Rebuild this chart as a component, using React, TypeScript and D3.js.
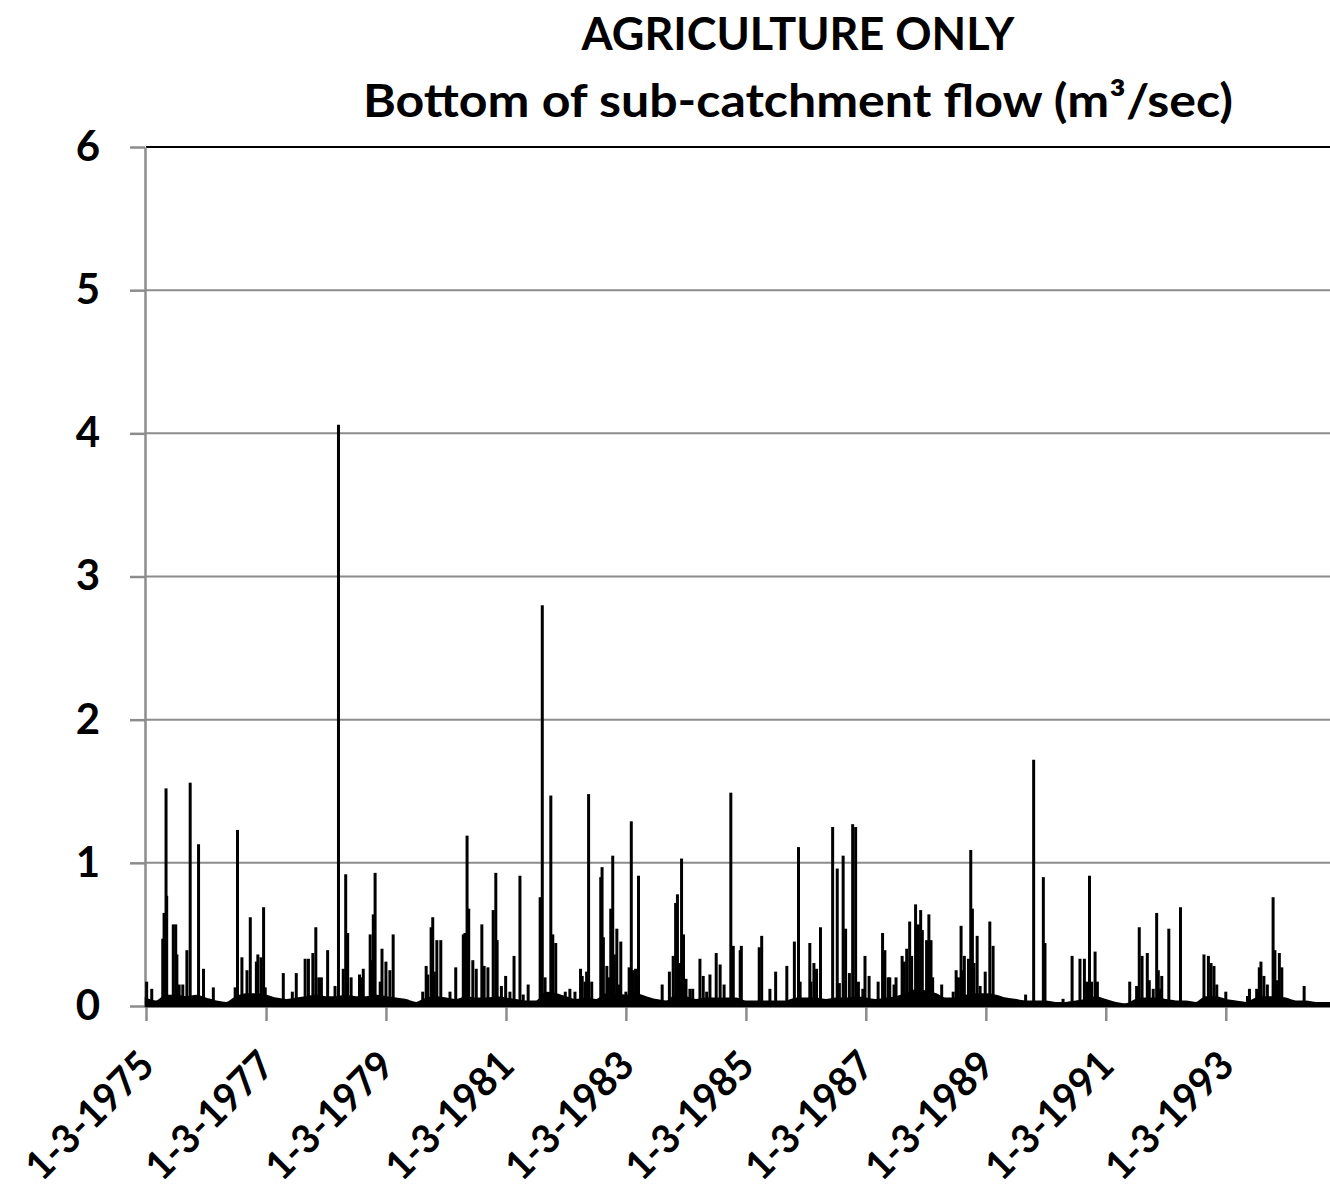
import React, {useEffect, useRef} from 'react';
import * as d3 from 'd3';

// chart text
const titleLines = ['AGRICULTURE ONLY', 'Bottom of sub-catchment flow (m³/sec)'];
const yTicks = [0, 1, 2, 3, 4, 5, 6];
const xTickDates = [
  '1975-03-01', '1977-03-01', '1979-03-01', '1981-03-01', '1983-03-01',
  '1985-03-01', '1987-03-01', '1989-03-01', '1991-03-01', '1993-03-01',
];

// base flow between events (m3/sec) at the bottom
const lowFlows: [string, number][] = [
  ['1975-03-01', 0.05], ['1975-05-01', 0.03], ['1975-07-01', 0.07], ['1975-09-01', 0.07], ['1975-11-01', 0.06],
  ['1976-01-01', 0.07], ['1976-03-01', 0.05], ['1976-05-01', 0.03], ['1976-07-01', 0.02], ['1976-09-01', 0.06], ['1976-11-01', 0.08],
  ['1977-01-01', 0.08], ['1977-03-01', 0.07], ['1977-05-01', 0.05], ['1977-07-01', 0.04], ['1977-09-01', 0.05], ['1977-11-01', 0.06],
  ['1978-01-01', 0.07], ['1978-03-01', 0.06], ['1978-05-01', 0.06], ['1978-07-01', 0.07], ['1978-09-01', 0.06], ['1978-11-01', 0.06],
  ['1979-01-01', 0.07], ['1979-03-01', 0.06], ['1979-05-01', 0.05], ['1979-07-01', 0.04], ['1979-09-01', 0.02], ['1979-11-01', 0.05],
  ['1980-01-01', 0.06], ['1980-03-01', 0.05], ['1980-05-01', 0.04], ['1980-07-01', 0.06], ['1980-09-01', 0.05], ['1980-11-01', 0.05],
  ['1981-01-01', 0.06], ['1981-03-01', 0.05], ['1981-05-01', 0.04], ['1981-07-01', 0.03], ['1981-09-01', 0.03], ['1981-11-01', 0.09],
  ['1982-01-01', 0.08], ['1982-03-01', 0.06], ['1982-05-01', 0.04], ['1982-07-01', 0.05], ['1982-09-01', 0.04], ['1982-11-01', 0.08],
  ['1983-01-01', 0.08], ['1983-03-01', 0.07], ['1983-05-01', 0.08], ['1983-07-01', 0.06], ['1983-09-01', 0.04], ['1983-11-01', 0.03],
  ['1984-01-01', 0.07], ['1984-03-01', 0.06], ['1984-05-01', 0.04], ['1984-07-01', 0.05], ['1984-09-01', 0.05], ['1984-11-01', 0.05],
  ['1985-01-01', 0.05], ['1985-03-01', 0.03], ['1985-05-01', 0.03], ['1985-07-01', 0.03], ['1985-09-01', 0.03], ['1985-11-01', 0.03],
  ['1986-01-01', 0.05], ['1986-03-01', 0.05], ['1986-05-01', 0.05], ['1986-07-01', 0.04], ['1986-09-01', 0.05], ['1986-11-01', 0.05],
  ['1987-01-01', 0.06], ['1987-03-01', 0.05], ['1987-05-01', 0.04], ['1987-07-01', 0.05], ['1987-09-01', 0.06], ['1987-11-01', 0.08],
  ['1988-01-01', 0.11], ['1988-03-01', 0.10], ['1988-05-01', 0.08], ['1988-07-01', 0.05], ['1988-09-01', 0.05], ['1988-11-01', 0.07],
  ['1989-01-01', 0.08], ['1989-03-01', 0.08], ['1989-05-01', 0.07], ['1989-07-01', 0.05], ['1989-09-01', 0.04], ['1989-11-01', 0.03],
  ['1990-01-01', 0.03], ['1990-03-01', 0.03], ['1990-05-01', 0.02], ['1990-07-01', 0.02], ['1990-09-01', 0.03], ['1990-11-01', 0.04],
  ['1991-01-01', 0.06], ['1991-03-01', 0.04], ['1991-05-01', 0.02], ['1991-07-01', 0.01], ['1991-09-01', 0.04], ['1991-11-01', 0.05],
  ['1992-01-01', 0.05], ['1992-03-01', 0.04], ['1992-05-01', 0.03], ['1992-07-01', 0.03], ['1992-09-01', 0.02], ['1992-11-01', 0.06],
  ['1993-01-01', 0.06], ['1993-03-01', 0.04], ['1993-05-01', 0.03], ['1993-07-01', 0.02], ['1993-09-01', 0.05], ['1993-11-01', 0.06],
  ['1994-01-01', 0.06], ['1994-03-01', 0.05], ['1994-05-01', 0.03], ['1994-07-01', 0.03], ['1994-09-01', 0.02], ['1994-11-01', 0.02],
  ['1995-01-01', 0.02],
];

// daily peak flows (m3/sec)
const peaks1975to1979: [string, number][] = [
  ['1975-03-05', 0.17], ['1975-04-05', 0.12], ['1975-06-11', 0.47], ['1975-06-19', 0.65], ['1975-07-01', 1.52],
  ['1975-07-05', 0.77], ['1975-08-14', 0.57], ['1975-08-29', 0.57], ['1975-09-05', 0.36], ['1975-09-19', 0.15],
  ['1975-10-11', 0.15], ['1975-11-05', 0.39], ['1975-11-25', 1.56], ['1976-01-15', 1.13], ['1976-02-14', 0.26],
  ['1976-04-14', 0.13], ['1976-08-25', 0.13], ['1976-09-08', 1.23], ['1976-10-05', 0.34], ['1976-11-05', 0.25],
  ['1976-11-25', 0.62], ['1977-01-01', 0.31], ['1977-01-10', 0.36], ['1977-01-29', 0.34], ['1977-02-14', 0.69],
  ['1977-02-24', 0.13], ['1977-06-14', 0.23], ['1977-08-08', 0.10], ['1977-09-01', 0.23], ['1977-10-25', 0.33],
  ['1977-11-14', 0.33], ['1977-12-11', 0.37], ['1977-12-29', 0.55], ['1978-01-16', 0.20], ['1978-02-01', 0.20],
  ['1978-03-11', 0.39], ['1978-04-25', 0.14], ['1978-05-16', 4.06], ['1978-06-14', 0.26], ['1978-06-29', 0.92],
  ['1978-07-11', 0.51], ['1978-08-01', 0.20], ['1978-09-21', 0.22], ['1978-10-01', 0.20], ['1978-10-14', 0.26],
  ['1978-11-25', 0.50], ['1978-12-05', 0.32], ['1978-12-14', 0.64], ['1978-12-25', 0.93], ['1979-01-25', 0.17],
  ['1979-02-05', 0.40],
];

const peaks1979to1983: [string, number][] = [
  ['1979-03-01', 0.31], ['1979-03-25', 0.25], ['1979-04-14', 0.50], ['1979-10-11', 0.10], ['1979-11-01', 0.28],
  ['1979-11-11', 0.22], ['1979-12-01', 0.55], ['1979-12-11', 0.62], ['1979-12-21', 0.24], ['1980-01-05', 0.46],
  ['1980-01-29', 0.46], ['1980-03-25', 0.10], ['1980-04-29', 0.27], ['1980-06-14', 0.50], ['1980-06-24', 0.51],
  ['1980-07-07', 1.19], ['1980-07-17', 0.68], ['1980-08-11', 0.32], ['1980-09-01', 0.26], ['1980-10-05', 0.57],
  ['1980-10-19', 0.28], ['1980-11-11', 0.27], ['1980-12-13', 0.67], ['1980-12-29', 0.93], ['1981-01-06', 0.46],
  ['1981-02-01', 0.14], ['1981-02-27', 0.21], ['1981-03-25', 0.10], ['1981-04-19', 0.35], ['1981-05-25', 0.91],
  ['1981-06-14', 0.08], ['1981-07-14', 0.15], ['1981-09-25', 0.76], ['1981-10-08', 2.80], ['1981-10-25', 0.20],
  ['1981-11-29', 1.47], ['1981-12-11', 0.50], ['1981-12-29', 0.44], ['1982-02-25', 0.10], ['1982-03-25', 0.12],
  ['1982-04-25', 0.10], ['1982-05-29', 0.26], ['1982-06-08', 0.21], ['1982-06-25', 0.17], ['1982-07-05', 0.24],
  ['1982-07-17', 1.48], ['1982-08-05', 0.17], ['1982-09-29', 0.90], ['1982-10-07', 0.97], ['1982-10-15', 0.48],
  ['1982-11-05', 0.28], ['1982-11-15', 0.20], ['1982-11-29', 0.68], ['1982-12-11', 1.05], ['1982-12-21', 0.36],
  ['1983-01-05', 0.54], ['1983-01-19', 0.15], ['1983-01-29', 0.45],
];

const peaks1983to1987: [string, number][] = [
  ['1983-03-01', 0.10], ['1983-03-21', 0.27], ['1983-04-03', 1.29], ['1983-04-15', 0.25], ['1983-04-29', 0.26],
  ['1983-05-17', 0.91], ['1983-10-08', 0.15], ['1983-11-21', 0.24], ['1983-12-14', 0.35], ['1983-12-29', 0.72],
  ['1984-01-09', 0.78], ['1984-01-21', 0.30], ['1984-02-03', 1.03], ['1984-02-15', 0.50], ['1984-03-01', 0.19],
  ['1984-03-25', 0.12], ['1984-04-11', 0.12], ['1984-05-25', 0.33], ['1984-06-14', 0.21], ['1984-07-05', 0.10],
  ['1984-07-25', 0.22], ['1984-09-01', 0.37], ['1984-09-25', 0.29], ['1984-10-19', 0.15], ['1984-11-29', 1.49],
  ['1984-12-14', 0.42], ['1985-01-25', 0.39], ['1985-02-01', 0.42], ['1985-05-21', 0.41], ['1985-06-05', 0.49],
  ['1985-07-25', 0.12], ['1985-08-29', 0.24], ['1985-11-05', 0.28], ['1985-12-21', 0.45], ['1986-01-15', 1.11],
  ['1986-01-25', 0.17], ['1986-03-25', 0.44], ['1986-04-01', 0.17], ['1986-04-19', 0.30], ['1986-05-05', 0.26],
  ['1986-05-29', 0.55], ['1986-08-11', 1.25], ['1986-09-08', 0.96], ['1986-09-21', 0.16], ['1986-10-14', 1.05],
  ['1986-10-29', 0.54], ['1986-11-21', 0.23], ['1986-12-11', 1.27], ['1986-12-29', 1.25], ['1987-01-15', 0.17],
  ['1987-02-11', 0.12], ['1987-02-24', 0.35],
];

const peaks1987to1991: [string, number][] = [
  ['1987-03-21', 0.21], ['1987-05-15', 0.17], ['1987-06-11', 0.51], ['1987-06-25', 0.39], ['1987-07-15', 0.20],
  ['1987-07-25', 0.20], ['1987-08-20', 0.15], ['1987-09-01', 0.20], ['1987-10-08', 0.35], ['1987-10-21', 0.31],
  ['1987-11-05', 0.40], ['1987-11-23', 0.59], ['1987-12-05', 0.35], ['1987-12-29', 0.71], ['1988-01-15', 0.57],
  ['1988-01-29', 0.67], ['1988-02-08', 0.53], ['1988-03-05', 0.46], ['1988-03-19', 0.64], ['1988-04-01', 0.46],
  ['1988-04-11', 0.20], ['1988-06-05', 0.15], ['1988-08-14', 0.10], ['1988-09-01', 0.25], ['1988-09-15', 0.20],
  ['1988-10-01', 0.56], ['1988-10-09', 0.25], ['1988-10-21', 0.35], ['1988-11-15', 0.33], ['1988-11-29', 1.09],
  ['1988-12-09', 0.68], ['1988-12-19', 0.30], ['1989-01-07', 0.49], ['1989-01-25', 0.14], ['1989-02-25', 0.24],
  ['1989-03-25', 0.59], ['1989-04-14', 0.42], ['1989-10-29', 0.08], ['1989-12-17', 1.72], ['1990-02-14', 0.90],
  ['1990-02-24', 0.44], ['1990-06-14', 0.05], ['1990-08-08', 0.35], ['1990-09-25', 0.33], ['1990-10-22', 0.33],
  ['1990-11-05', 0.17], ['1990-11-22', 0.91], ['1990-12-05', 0.17], ['1990-12-26', 0.38], ['1991-01-09', 0.17],
];

const peaks1991to1995: [string, number][] = [
  ['1991-07-25', 0.17], ['1991-09-05', 0.14], ['1991-09-21', 0.55], ['1991-10-08', 0.35], ['1991-11-09', 0.37],
  ['1991-11-21', 0.18], ['1991-12-15', 0.12], ['1992-01-05', 0.65], ['1992-01-15', 0.25], ['1992-01-25', 0.12],
  ['1992-02-05', 0.21], ['1992-03-19', 0.54], ['1992-05-29', 0.69], ['1992-10-19', 0.36], ['1992-11-15', 0.35],
  ['1992-12-01', 0.30], ['1992-12-19', 0.28], ['1993-01-05', 0.15], ['1993-03-01', 0.10], ['1993-07-11', 0.07],
  ['1993-07-23', 0.12], ['1993-09-05', 0.12], ['1993-09-21', 0.27], ['1993-10-01', 0.31], ['1993-10-19', 0.21],
  ['1993-11-09', 0.15], ['1993-12-14', 0.76], ['1993-12-25', 0.39], ['1994-01-05', 0.18], ['1994-01-21', 0.37],
  ['1994-02-05', 0.27], ['1994-06-21', 0.14],
];

const FONT = 'Lato, "Open Sans", sans-serif';

const App = () => {
  const ref = useRef<SVGSVGElement>(null);
  const width = 1330;
  const height = 1191;
  const plot = {left: 146, right: 1336, top: 147, bottom: 1006};

  useEffect(() => {
    const svg = d3.select(ref.current);
    svg.selectAll('*').remove();

    const parse = d3.timeParse('%Y-%m-%d');
    const x = d3
      .scaleTime()
      .domain([parse('1975-03-01') as Date, parse('1995-01-01') as Date])
      .range([plot.left, plot.right]);
    const y = d3.scaleLinear().domain([0, 6]).range([plot.bottom, plot.top]);

    // title
    titleLines.forEach((t, i) => {
      svg
        .append('text')
        .attr('x', 798)
        .attr('y', i === 0 ? 50 : 117)
        .attr('text-anchor', 'middle')
        .attr('font-family', FONT)
        .attr('font-weight', 'bold')
        .attr('font-size', 45)
        .attr('textLength', i === 0 ? 433 : 870)
        .attr('lengthAdjust', 'spacingAndGlyphs')
        .text(t);
    });

    // gridlines
    svg
      .append('g')
      .selectAll('line')
      .data(yTicks.filter(d => d > 0))
      .enter()
      .append('line')
      .attr('x1', plot.left)
      .attr('x2', width)
      .attr('y1', d => y(d))
      .attr('y2', d => y(d))
      .attr('stroke', d => (d === 6 ? '#000' : '#8c8c8c'))
      .attr('stroke-width', 2);

    // y axis
    const yAxis = svg
      .append('g')
      .attr('transform', `translate(${plot.left - 1}, 0)`)
      .call(
        d3
          .axisLeft(y)
          .tickValues(yTicks)
          .tickFormat(d3.format('d'))
          .tickSize(15)
          .tickSizeOuter(0)
          .tickPadding(30)
      );
    yAxis.select('.domain').attr('stroke', '#8c8c8c').attr('stroke-width', 2.5);
    yAxis.selectAll('.tick line').attr('stroke', '#8c8c8c').attr('stroke-width', 2.5);
    yAxis
      .selectAll('.tick text')
      .attr('font-family', FONT)
      .attr('font-weight', 'bold')
      .attr('font-size', 42)
      .attr('fill', '#000');

    // x axis
    const fmt = d3.timeFormat('%-d-%-m-%Y');
    const xAxis = svg
      .append('g')
      .attr('transform', `translate(0, ${plot.bottom})`)
      .call(
        d3
          .axisBottom(x)
          .tickValues(xTickDates.map(d => parse(d) as Date))
          .tickFormat(d => fmt(d as Date))
          .tickSize(15)
          .tickSizeOuter(0)
      );
    xAxis.select('.domain').attr('stroke', '#8c8c8c').attr('stroke-width', 2.5);
    xAxis.selectAll('.tick line').attr('stroke', '#8c8c8c').attr('stroke-width', 2.5);
    xAxis
      .selectAll('.tick text')
      .attr('font-family', FONT)
      .attr('font-weight', 'bold')
      .attr('font-size', 40)
      .attr('fill', '#000')
      .attr('x', 0)
      .attr('y', 0)
      .attr('dy', 0)
      .attr('text-anchor', 'end')
      .attr('textLength', 162)
      .attr('lengthAdjust', 'spacingAndGlyphs')
      .attr('transform', 'translate(10, 62) rotate(-45)');

    // base flow band
    const base = lowFlows.map(([d, v]) => ({date: parse(d) as Date, v}));
    svg
      .append('path')
      .datum(base)
      .attr('fill', '#000')
      .attr('stroke', '#000')
      .attr('stroke-width', 2.5)
      .attr(
        'd',
        d3
          .area<{date: Date; v: number}>()
          .x(d => x(d.date))
          .y0(y(0))
          .y1(d => y(d.v))
          .curve(d3.curveMonotoneX)
      );

    // peak flows as needles
    const peaks = [
      ...peaks1975to1979,
      ...peaks1979to1983,
      ...peaks1983to1987,
      ...peaks1987to1991,
      ...peaks1991to1995,
    ].map(([d, v]) => ({date: parse(d) as Date, v}));
    svg
      .append('g')
      .selectAll('line')
      .data(peaks)
      .enter()
      .append('line')
      .attr('x1', d => x(d.date))
      .attr('x2', d => x(d.date))
      .attr('y1', y(0))
      .attr('y2', d => y(d.v))
      .attr('stroke', '#000')
      .attr('stroke-width', 3);
  }, []);

  return (
    <svg
      ref={ref}
      width={width}
      height={height}
      style={{position: 'absolute', left: 0, top: 0, background: '#fff'}}
    />
  );
};

export default App;
